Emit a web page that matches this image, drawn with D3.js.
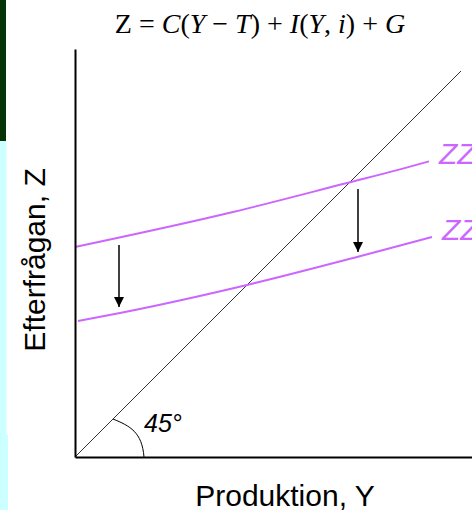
<!DOCTYPE html>
<html lang="sv">
<head>
<meta charset="utf-8">
<script src="https://d3js.org/d3.v7.min.js"></script>
<style type="text/css">
body {
	margin: 0;
	background: white;
	font-family: "Liberation Sans", Arial, sans-serif;
}
svg {
	display: block;
}
</style>
</head>
<body>
<script type="text/javascript">

// Chart data (units on both axes are the same, so the 45 degree line is y = x)
var zzX      = [0, 39.5, 68, 81.25, 88.5];
var zzY      = [52.5, 61.25, 68.5, 71.9, 73.9];
var zzPrimX  = [0.75, 11.25, 43, 70.5, 89.25];
var zzPrimY  = [34, 36, 43, 50, 55];
var lineEnd  = 96.5;                 // end of the 45 degree line
var arrowX   = [11, 70.75];          // the two downward shifts
var arrowTop = [53, 67];
var arrowBot = [37.5, 51.25];
var arcPts   = [[9.5, 9.5], [13.75, 7.75], [16.75, 6.25], [17.25, 0]];
var curveLabels = ["ZZ", "ZZ'"];

var width = 472;
var height = 510;

var x = d3.scaleLinear().domain([0, 100]).range([75, 475]);
var y = d3.scaleLinear().domain([0, 102]).range([457, 49]);

var pink = "#cc66ff";

var svg = d3.select("body")
	.append("svg")
	.attr("width", width)
	.attr("height", height);

// slide decoration on the left edge
svg.append("rect").attr("x", 0).attr("y", 0).attr("width", 6).attr("height", 141).style("fill", "#063306");
svg.append("rect").attr("x", 0).attr("y", 141).attr("width", 6.5).attr("height", 294).style("fill", "#ccffff");
svg.append("rect").attr("x", 0).attr("y", 435).attr("width", 8).attr("height", 75).style("fill", "#ccffff");

// arrow head
svg.append("defs").append("marker")
	.attr("id", "head")
	.attr("markerUnits", "userSpaceOnUse")
	.attr("viewBox", "0 0 10 10")
	.attr("refX", 10)
	.attr("refY", 5)
	.attr("markerWidth", 10)
	.attr("markerHeight", 10)
	.attr("orient", "auto")
	.append("path")
	.attr("d", "M0,0L10,5L0,10Z")
	.style("fill", "black");

// title formula
var title = svg.append("text")
	.attr("x", 260)
	.attr("y", 33)
	.attr("text-anchor", "middle")
	.style("font-family", "'Liberation Serif', 'Times New Roman', serif")
	.style("font-size", "28px")
	.attr("xml:space", "preserve");
var parts = [["Z", 0], [" = ", 0], ["C", 1], ["(", 0], ["Y", 1], [" \u2212 ", 0], ["T", 1], [")", 0],
	[" + ", 0], ["I", 1], ["(", 0], ["Y", 1], [", ", 0], ["i", 1], [")", 0], [" + ", 0], ["G", 1]];
parts.forEach(function(p) {
	title.append("tspan")
		.style("font-style", p[1] ? "italic" : "normal")
		.text(p[0]);
});

// 45 degree line
svg.append("line")
	.attr("x1", x(0)).attr("y1", y(0))
	.attr("x2", x(lineEnd)).attr("y2", y(lineEnd))
	.style("stroke", "#333")
	.style("stroke-width", 1);

// ZZ curves
var line = d3.line()
	.x(function(d) { return x(d[0]); })
	.y(function(d) { return y(d[1]); })
	.curve(d3.curveMonotoneX);

var curves = [d3.zip(zzX, zzY), d3.zip(zzPrimX, zzPrimY)];

svg.selectAll(".zz")
	.data(curves)
	.enter()
	.append("path")
	.attr("class", "zz")
	.attr("d", line)
	.style("fill", "none")
	.style("stroke", pink)
	.style("stroke-width", 2);

svg.selectAll(".zzlabel")
	.data(curves)
	.enter()
	.append("text")
	.attr("class", "zzlabel")
	.attr("x", function(d) { return x(d[d.length - 1][0]) + 10; })
	.attr("y", function(d) { return y(d[d.length - 1][1]) + 3; })
	.style("font-size", "30px")
	.style("font-style", "italic")
	.style("fill", pink)
	.text(function(d, i) { return curveLabels[i]; });

// shift arrows
svg.selectAll(".shift")
	.data(arrowX)
	.enter()
	.append("line")
	.attr("class", "shift")
	.attr("x1", function(d) { return x(d); })
	.attr("x2", function(d) { return x(d); })
	.attr("y1", function(d, i) { return y(arrowTop[i]); })
	.attr("y2", function(d, i) { return y(arrowBot[i]); })
	.style("stroke", "black")
	.style("stroke-width", 1.5)
	.attr("marker-end", "url(#head)");

// angle mark
var arc = d3.path();
arc.moveTo(x(arcPts[0][0]), y(arcPts[0][1]));
arc.bezierCurveTo(x(arcPts[1][0]), y(arcPts[1][1]), x(arcPts[2][0]), y(arcPts[2][1]), x(arcPts[3][0]), y(arcPts[3][1]));
svg.append("path")
	.attr("d", arc.toString())
	.style("fill", "none")
	.style("stroke", "black")
	.style("stroke-width", 1);

svg.append("text")
	.attr("x", 144)
	.attr("y", 432)
	.style("font-size", "25px")
	.style("font-style", "italic")
	.text("45\u00b0");

// axes (no ticks, just the lines)
var xAxis = svg.append("g")
	.attr("transform", "translate(0," + y(0) + ")")
	.call(d3.axisBottom(x).ticks(0).tickSizeOuter(0));
var yAxis = svg.append("g")
	.attr("transform", "translate(" + x(0) + ",0)")
	.call(d3.axisLeft(y).ticks(0).tickSizeOuter(0));
svg.selectAll(".domain")
	.style("stroke", "black")
	.style("stroke-width", 2);

// axis titles
svg.append("text")
	.attr("x", 285)
	.attr("y", 506)
	.attr("text-anchor", "middle")
	.style("font-size", "30px")
	.text("Produktion, Y");

svg.append("text")
	.attr("transform", "translate(44.5,260) rotate(-90)")
	.attr("text-anchor", "middle")
	.style("font-size", "30px")
	.text("Efterfrågan, Z");

</script>
</body>
</html>
